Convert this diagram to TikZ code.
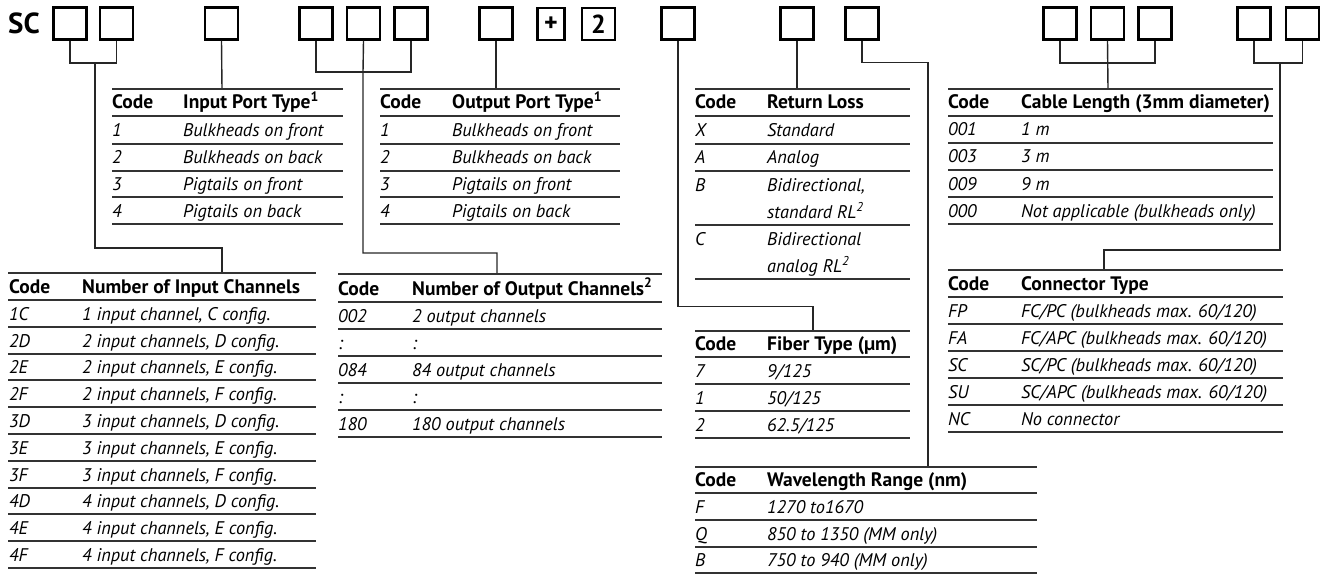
\documentclass[tikz,border=0pt]{standalone}
\usepackage{fontspec}
\setmainfont{PT Sans}
\usetikzlibrary{positioning}

\begin{document}
\begin{tikzpicture}[
		x=1pt, y=-1pt,
		digit/.style={draw, line width=2.5pt, minimum width=33pt, minimum height=32pt, inner sep=0pt, font=\fontsize{26}{28}\selectfont\bfseries},
		title/.style={inner sep=0pt, font=\fontsize{29}{32}\selectfont\bfseries},
		head/.style={anchor=base west, inner sep=0pt, font=\fontsize{19.5}{22}\selectfont\bfseries},
		cell/.style={anchor=base west, inner sep=0pt, font=\fontsize{18.3}{21}\selectfont\itshape},
		rule/.style={draw=black!80, line width=1.4pt},
		link/.style={draw=black!85, line width=1.4pt}
		]
		\useasboundingbox (0,0) rectangle (1328,575);

		% Code boxes
		\node[title] (sc) at (24,23) {SC};
		\node[digit] (b1) at (70,23.5) {};
		\node[digit, right=11pt of b1] (b2) {};
		\node[digit] (b3) at (221.5,23.5) {};
		\node[digit] (b4) at (316,23.5) {};
		\node[digit, right=12pt of b4] (b5) {};
		\node[digit, right=12pt of b5] (b6) {};
		\node[digit] (b7) at (496,23.5) {};
		\node[digit, minimum width=27pt] (plus) at (551,24) {+};
		\node[digit] (two) at (598.5,24) {2};
		\node[digit] (b8) at (678,23.5) {};
		\node[digit] (b9) at (797,23.5) {};
		\node[digit] (b10) at (862,23.5) {};
		\node[digit] (b11) at (1060,23.5) {};
		\node[digit, right=12pt of b11] (b12) {};
		\node[digit, right=12pt of b12] (b13) {};
		\node[digit] (b14) at (1254,23.5) {};
		\node[digit, right=13pt of b14] (b15) {};

		% Table tops
		\coordinate (ipt) at (222,89);
		\coordinate (ich) at (222,273);
		\coordinate (opt) at (496,89);
		\coordinate (och) at (497,274);
		\coordinate (rlt) at (797,89);
		\coordinate (fib) at (813,331);
		\coordinate (wav) at (928,467);
		\coordinate (cab) at (1108,89);
		\coordinate (con) at (1104,270);

		% Forks
		\coordinate (f12) at (95,63);
		\coordinate (f46) at (363,72);
		\coordinate (f1113) at (1108,63);
		\coordinate (f1415) at (1280,63);

		% Connectors
		\draw[link] (b1.south) |- (f12) -| (b2.south);
		\draw[link] (f12) -- ++(0,185) -| (ich);
		\draw[link] (b3.south) -- (ipt);
		\draw[link] (b4.south) |- (f46) -| (b6.south);
		\draw[link] (b5.south) -- (f46) -- ++(0,181) -| (och);
		\draw[link] (b7.south) -- (opt);
		\draw[link] (b8.south) -- ++(0,266) -| (fib);
		\draw[link] (b9.south) -- (rlt);
		\draw[link] (b10.south) -- ++(0,22) -| (wav);
		\draw[link] (b11.south) |- (f1113) -| (b13.south);
		\draw[link] (b12.south) -- (cab);
		\draw[link] (b14.south) |- (f1415) -| (b15.south);
		\draw[link] (f1415) -- ++(0,187) -| (con);

		% Input port type
		\draw[rule] (112,89) -- (343,89) (112,116) -- (343,116) (112,144) -- (343,144)
			(112,171) -- (343,171) (112,197) -- (343,197) (112,224) -- (343,224);
		\node[head] (iph) at (112,109) {Code};
		\node[head] (iphd) at (183,109) {Input Port Type\textsuperscript{1}};
		\node[cell] (ip1) at (112,137) {1};
		\node[cell] (ip1d) at (183,137) {Bulkheads on front};
		\node[cell] (ip2) at (112,164) {2};
		\node[cell] (ip2d) at (183,164) {Bulkheads on back};
		\node[cell] (ip3) at (112,190) {3};
		\node[cell] (ip3d) at (183,190) {Pigtails on front};
		\node[cell] (ip4) at (112,217) {4};
		\node[cell] (ip4d) at (183,217) {Pigtails on back};

		% Number of input channels
		\draw[rule] (8,273) -- (316,273) (8,300) -- (316,300) (8,327) -- (316,327)
			(8,354) -- (316,354) (8,380) -- (316,380) (8,407) -- (316,407)
			(8,434) -- (316,434) (8,461) -- (316,461) (8,488) -- (316,488)
			(8,514) -- (316,514) (8,541) -- (316,541) (8,568) -- (316,568);
		\node[head] (ich0) at (9,293) {Code};
		\node[head] (ich0d) at (82,293) {Number of Input Channels};
		\node[cell] (ich1) at (9,320) {1C};
		\node[cell] (ich1d) at (82,320) {1 input channel, C config.};
		\node[cell] (ich2) at (9,347) {2D};
		\node[cell] (ich2d) at (82,347) {2 input channels, D config.};
		\node[cell] (ich3) at (9,373) {2E};
		\node[cell] (ich3d) at (82,373) {2 input channels, E config.};
		\node[cell] (ich4) at (9,400) {2F};
		\node[cell] (ich4d) at (82,400) {2 input channels, F config.};
		\node[cell] (ich5) at (9,427) {3D};
		\node[cell] (ich5d) at (82,427) {3 input channels, D config.};
		\node[cell] (ich6) at (9,454) {3E};
		\node[cell] (ich6d) at (82,454) {3 input channels, E config.};
		\node[cell] (ich7) at (9,481) {3F};
		\node[cell] (ich7d) at (82,481) {3 input channels, F config.};
		\node[cell] (ich8) at (9,507) {4D};
		\node[cell] (ich8d) at (82,507) {4 input channels, D config.};
		\node[cell] (ich9) at (9,534) {4E};
		\node[cell] (ich9d) at (82,534) {4 input channels, E config.};
		\node[cell] (ich10) at (9,561) {4F};
		\node[cell] (ich10d) at (82,561) {4 input channels, F config.};

		% Output port type
		\draw[rule] (380,89) -- (620,89) (380,116) -- (620,116) (380,144) -- (620,144)
			(380,171) -- (620,171) (380,197) -- (620,197) (380,224) -- (620,224);
		\node[head] (oph) at (380,109) {Code};
		\node[head] (ophd) at (452,109) {Output Port Type\textsuperscript{1}};
		\node[cell] (op1) at (380,137) {1};
		\node[cell] (op1d) at (452,137) {Bulkheads on front};
		\node[cell] (op2) at (380,164) {2};
		\node[cell] (op2d) at (452,164) {Bulkheads on back};
		\node[cell] (op3) at (380,190) {3};
		\node[cell] (op3d) at (452,190) {Pigtails on front};
		\node[cell] (op4) at (380,217) {4};
		\node[cell] (op4d) at (452,217) {Pigtails on back};

		% Number of output channels
		\draw[rule] (338,274) -- (662,274) (338,302) -- (662,302) (338,329) -- (662,329)
			(338,356) -- (662,356) (338,383) -- (662,383) (338,410) -- (662,410)
			(338,437) -- (662,437);
		\node[head] (och0) at (338,295) {Code};
		\node[head] (och0d) at (412,295) {Number of Output Channels\textsuperscript{2}};
		\node[cell] (och1) at (338,322) {002};
		\node[cell] (och1d) at (412,322) {2 output channels};
		\node[cell] (och2) at (338,349) {:};
		\node[cell] (och2d) at (412,349) {:};
		\node[cell] (och3) at (338,376) {084};
		\node[cell] (och3d) at (412,376) {84 output channels};
		\node[cell] (och4) at (338,403) {:};
		\node[cell] (och4d) at (412,403) {:};
		\node[cell] (och5) at (338,430) {180};
		\node[cell] (och5d) at (412,430) {180 output channels};

		% Return loss
		\draw[rule] (695,89) -- (910,89) (695,116) -- (910,116) (695,144) -- (910,144)
			(695,171) -- (910,171) (695,225) -- (910,225) (695,279) -- (910,279);
		\node[head] (rlh) at (695,109) {Code};
		\node[head] (rlhd) at (767,109) {Return Loss};
		\node[cell] (rl1) at (695,137) {X};
		\node[cell] (rl1d) at (767,137) {Standard};
		\node[cell] (rl2) at (695,164) {A};
		\node[cell] (rl2d) at (767,164) {Analog};
		\node[cell] (rl3) at (695,191) {B};
		\node[cell] (rl3d) at (767,191) {Bidirectional,};
		\node[cell] (rl3e) at (767,218) {standard RL\textsuperscript{2}};
		\node[cell] (rl4) at (695,245) {C};
		\node[cell] (rl4d) at (767,245) {Bidirectional};
		\node[cell] (rl4e) at (767,272) {analog RL\textsuperscript{2}};

		% Fiber type
		\draw[rule] (695,331) -- (910,331) (695,357) -- (910,357) (695,384) -- (910,384)
			(695,411) -- (910,411) (695,438) -- (910,438);
		\node[head] (fth) at (695,350) {Code};
		\node[head] (fthd) at (767,350) {Fiber Type (µm)};
		\node[cell] (ft1) at (695,377) {7};
		\node[cell] (ft1d) at (767,377) {9/125};
		\node[cell] (ft2) at (695,404) {1};
		\node[cell] (ft2d) at (767,404) {50/125};
		\node[cell] (ft3) at (695,431) {2};
		\node[cell] (ft3d) at (767,431) {62.5/125};

		% Wavelength range
		\draw[rule] (695,467) -- (1037,467) (695,493) -- (1037,493) (695,520) -- (1037,520)
			(695,547) -- (1037,547) (695,573) -- (1037,573);
		\node[head] (wlh) at (695,486) {Code};
		\node[head] (wlhd) at (767,486) {Wavelength Range (nm)};
		\node[cell] (wl1) at (695,513) {F};
		\node[cell] (wl1d) at (767,513) {1270 to1670};
		\node[cell] (wl2) at (695,540) {Q};
		\node[cell] (wl2d) at (767,540) {850 to 1350 (MM only)};
		\node[cell] (wl3) at (695,566) {B};
		\node[cell] (wl3d) at (767,566) {750 to 940 (MM only)};

		% Cable length
		\draw[rule] (948,89) -- (1273,89) (948,116) -- (1273,116) (948,143) -- (1273,143)
			(948,170) -- (1273,170) (948,197) -- (1273,197) (948,224) -- (1273,224);
		\node[head] (clh) at (948,109) {Code};
		\node[head] (clhd) at (1021,109) {Cable Length (3mm diameter)};
		\node[cell] (cl1) at (948,136) {001};
		\node[cell] (cl1d) at (1021,136) {1 m};
		\node[cell] (cl2) at (948,163) {003};
		\node[cell] (cl2d) at (1021,163) {3 m};
		\node[cell] (cl3) at (948,190) {009};
		\node[cell] (cl3d) at (1021,190) {9 m};
		\node[cell] (cl4) at (948,217) {000};
		\node[cell] (cl4d) at (1021,217) {Not applicable (bulkheads only)};

		% Connector type
		\draw[rule] (948,270) -- (1283,270) (948,297) -- (1283,297) (948,324) -- (1283,324)
			(948,351) -- (1283,351) (948,378) -- (1283,378) (948,405) -- (1283,405)
			(948,432) -- (1283,432);
		\node[head] (cth) at (948,290) {Code};
		\node[head] (cthd) at (1021,290) {Connector Type};
		\node[cell] (ct1) at (948,317) {FP};
		\node[cell] (ct1d) at (1021,317) {FC/PC (bulkheads max. 60/120)};
		\node[cell] (ct2) at (948,344) {FA};
		\node[cell] (ct2d) at (1021,344) {FC/APC (bulkheads max. 60/120)};
		\node[cell] (ct3) at (948,371) {SC};
		\node[cell] (ct3d) at (1021,371) {SC/PC (bulkheads max. 60/120)};
		\node[cell] (ct4) at (948,398) {SU};
		\node[cell] (ct4d) at (1021,398) {SC/APC (bulkheads max. 60/120)};
		\node[cell] (ct5) at (948,425) {NC};
		\node[cell] (ct5d) at (1021,425) {No connector};
	\end{tikzpicture}
\end{document}
